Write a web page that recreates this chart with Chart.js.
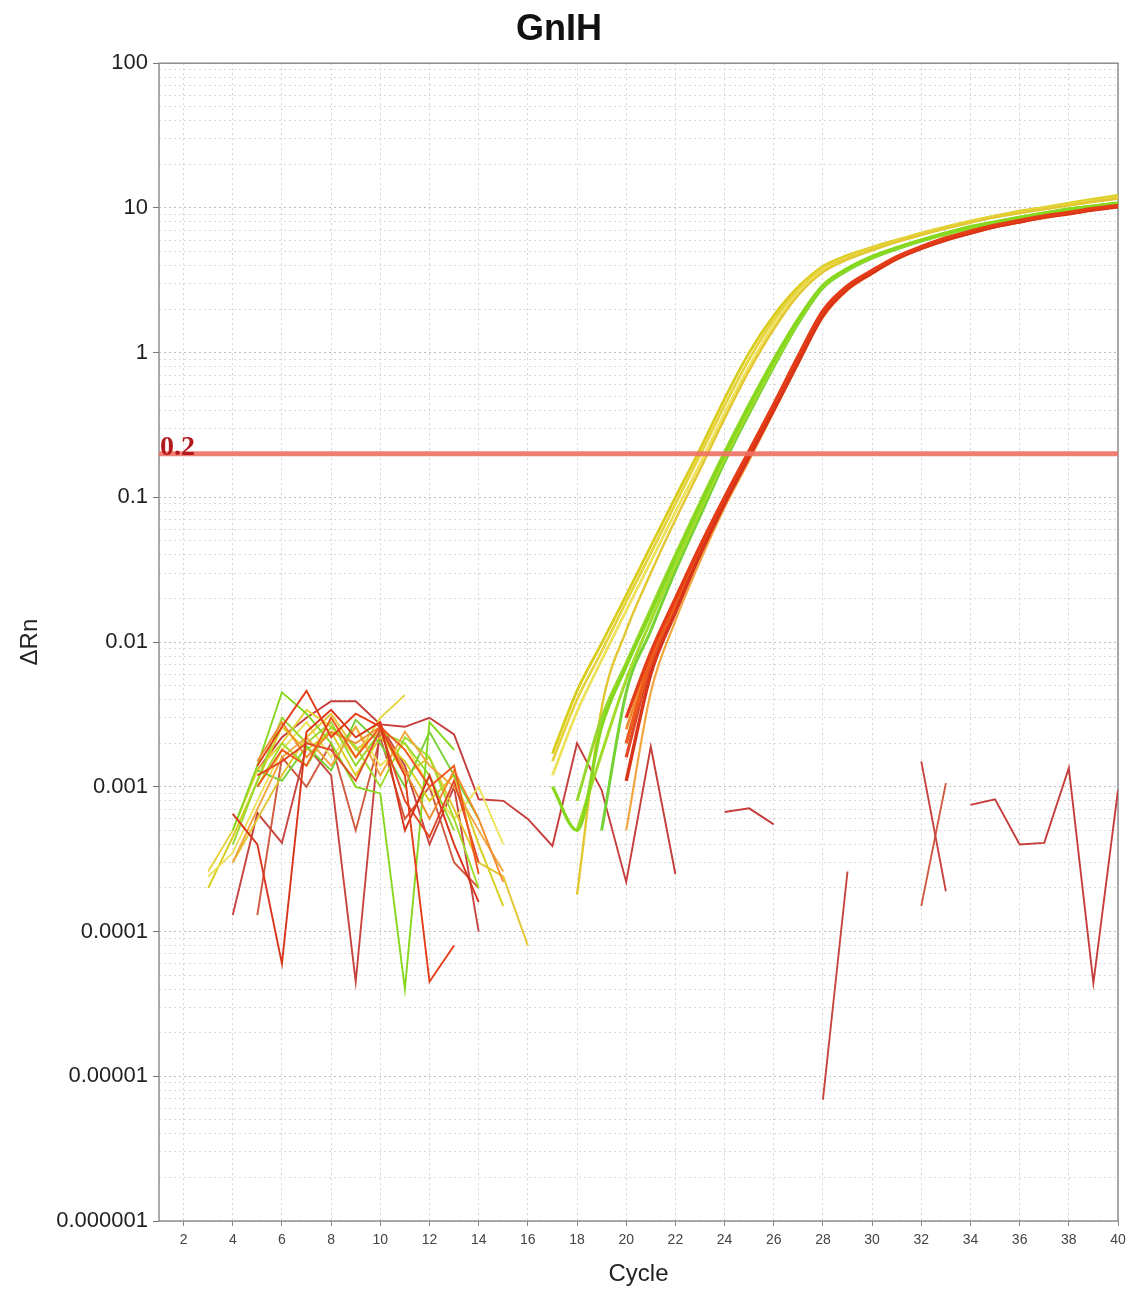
<!DOCTYPE html>
<html>
<head>
<meta charset="utf-8">
<title>GnIH</title>
<script src="https://cdn.jsdelivr.net/npm/chart.js@4.4.1/dist/chart.umd.min.js"></script>
<style>
  html, body { margin: 0; padding: 0; background: #fff; }
  #wrap { width: 1134px; height: 1291px; }
</style>
</head>
<body>
<div id="wrap"><canvas id="amplificationChart"></canvas></div>
<script>
// qPCR amplification plot, GnIH, delta Rn (log) vs cycle
const n = null;

const cycles = [1, 2, 3, 4, 5, 6, 7, 8, 9, 10, 11, 12, 13, 14, 15, 16, 17, 18, 19, 20,
                21, 22, 23, 24, 25, 26, 27, 28, 29, 30, 31, 32, 33, 34, 35, 36, 37, 38, 39, 40];
const xTicks = [2, 4, 6, 8, 10, 12, 14, 16, 18, 20, 22, 24, 26, 28, 30, 32, 34, 36, 38, 40];
const yMajorTicks = [1e-6, 1e-5, 1e-4, 1e-3, 1e-2, 1e-1, 1, 10, 100];
const yTickLabels = ['0.000001', '0.00001', '0.0001', '0.001', '0.01', '0.1', '1', '10', '100'];
const thresholdValue = 0.2;
const baselineEnd = 16; // last cycle of the noisy baseline part

// wells (ΔRn per cycle, null = not plotted / below zero)
const yellow1 = [n, n, 2.0e-4, 4.5e-4, 1.1e-3, 2.6e-3, 1.8e-3, 2.4e-3, 1.2e-3, 2.2e-3, 1.5e-3, 8e-4, 1.2e-3, 4e-4, 1.5e-4, n,
  1.7e-3, 4.6e-3, 0.0098, 0.021, 0.046, 0.1, 0.215, 0.48, 1.0, 1.8, 2.85, 3.95, 4.7, 5.35, 6.0, 6.7, 7.4, 8.1, 8.8, 9.5, 10.1, 10.8, 11.5, 12.2];
const yellow2 = [n, n, 2.4e-4, 3.5e-4, 8e-4, 1.8e-3, 2.8e-3, 1.6e-3, 2.6e-3, 1.4e-3, 2.0e-3, 1.0e-3, 6e-4, 1.0e-3, 4e-4, n,
  1.2e-3, 3.3e-3, 7.5e-3, 0.0165, 0.036, 0.079, 0.17, 0.38, 0.8, 1.55, 2.6, 3.7, 4.5, 5.2, 5.9, 6.6, 7.3, 8.0, 8.7, 9.3, 9.9, 10.5, 11.1, 11.7];
const yellow3 = [n, n, n, 3e-4, 6e-4, 1.2e-3, 2.2e-3, 3.2e-3, 1.8e-3, 2.4e-3, 1.2e-3, 1.6e-3, 7e-4, 3e-4, 2.4e-4, 8e-5,
  n, 1.8e-4, 3.5e-3, 0.012, 0.03, 0.07, 0.155, 0.35, 0.75, 1.45, 2.5, 3.6, 4.4, 5.1, 5.8, 6.5, 7.2, 7.9, 8.6, 9.2, 9.8, 10.4, 11.0, 11.6];
const yellow4 = [n, n, 2.6e-4, 5e-4, 1.3e-3, 2.0e-3, 3.4e-3, 2.6e-3, 1.6e-3, 3.0e-3, 4.3e-3, n, n, n, n, n,
  1.5e-3, 4.0e-3, 8.6e-3, 0.019, 0.041, 0.09, 0.195, 0.43, 0.9, 1.68, 2.75, 3.85, 4.6, 5.3, 5.95, 6.65, 7.35, 8.05, 8.75, 9.4, 10.0, 10.65, 11.3, 11.95];
const green1 = [n, n, n, 5e-4, 1.4e-3, 4.5e-3, 3.2e-3, 2.0e-3, 1.0e-3, 9e-4, 4e-5, 2.8e-3, 1.8e-3, n, n, n,
  1.0e-3, 5e-4, 2.6e-3, 0.0068, 0.016, 0.038, 0.088, 0.2, 0.43, 0.88, 1.7, 2.9, 3.8, 4.6, 5.3, 6.0, 6.7, 7.4, 8.0, 8.6, 9.2, 9.8, 10.3, 10.8];
const green2 = [n, n, n, n, 1.0e-3, 2.0e-3, 1.4e-3, 2.6e-3, 1.9e-3, 1.0e-3, 2.2e-3, 1.6e-3, 6e-4, 2e-4, n, n,
  n, 5e-4, 1.7e-3, 5.5e-3, 0.014, 0.034, 0.08, 0.185, 0.4, 0.83, 1.65, 2.85, 3.75, 4.55, 5.25, 5.95, 6.6, 7.3, 7.9, 8.5, 9.1, 9.7, 10.2, 10.7];
const green3 = [n, n, n, n, 1.3e-3, 1.1e-3, 1.9e-3, 1.3e-3, 2.9e-3, 2.0e-3, 1.0e-3, 2.4e-3, 1.2e-3, 6e-4, n, n,
  n, n, 5e-4, 4.5e-3, 0.012, 0.031, 0.074, 0.175, 0.38, 0.8, 1.6, 2.8, 3.7, 4.5, 5.2, 5.9, 6.55, 7.2, 7.85, 8.45, 9.05, 9.6, 10.15, 10.6];
const green4 = [n, n, n, 4e-4, 1.1e-3, 3.0e-3, 2.0e-3, 2.8e-3, 1.4e-3, 2.4e-3, 2.0e-3, 1.2e-3, 5e-4, n, n, n,
  n, 8e-4, 3.0e-3, 7.2e-3, 0.017, 0.04, 0.092, 0.205, 0.44, 0.9, 1.72, 2.92, 3.82, 4.62, 5.32, 6.02, 6.72, 7.42, 8.02, 8.62, 9.22, 9.82, 10.32, 10.82];
const orange1 = [n, n, n, 3e-4, 7e-4, 1.6e-3, 2.2e-3, 1.4e-3, 2.6e-3, 1.2e-3, 2.4e-3, 1.4e-3, 1.0e-3, 5e-4, 2.6e-4, n,
  n, n, n, 5e-4, 4.5e-3, 0.014, 0.036, 0.085, 0.18, 0.39, 0.84, 1.75, 2.7, 3.5, 4.4, 5.2, 5.95, 6.65, 7.35, 7.95, 8.55, 9.1, 9.65, 10.15];
const orange2 = [n, n, n, n, 1.5e-3, 2.8e-3, 1.6e-3, 2.4e-3, 2.0e-3, 2.6e-3, 1.3e-3, 6e-4, 1.3e-3, 6e-4, 2.2e-4, n,
  n, n, n, 2.5e-3, 8e-3, 0.0195, 0.045, 0.1, 0.205, 0.43, 0.92, 1.9, 2.85, 3.65, 4.55, 5.35, 6.1, 6.85, 7.55, 8.15, 8.75, 9.25, 9.85, 10.35];
const red1 = [n, n, n, n, 1.4e-3, 2.6e-3, 4.6e-3, 2.2e-3, 3.2e-3, 2.6e-3, 1.2e-3, 4.5e-5, 8e-5, n, n, n,
  n, n, n, 3.0e-3, 8.5e-3, 0.02, 0.046, 0.1, 0.21, 0.44, 0.95, 1.95, 2.9, 3.7, 4.6, 5.4, 6.2, 6.9, 7.6, 8.2, 8.8, 9.3, 9.9, 10.4];
const red2 = [n, n, n, n, 1.0e-3, 1.8e-3, 1.4e-3, 3.0e-3, 1.6e-3, 2.6e-3, 1.8e-3, 1.0e-3, 1.4e-3, 2.5e-4, n, n,
  n, n, n, 2.0e-3, 7.5e-3, 0.018, 0.043, 0.095, 0.2, 0.42, 0.9, 1.85, 2.8, 3.6, 4.5, 5.3, 6.1, 6.8, 7.5, 8.1, 8.7, 9.2, 9.8, 10.3];
const red3 = [n, n, n, 6.5e-4, 4e-4, 6e-5, 2.4e-3, 3.4e-3, 2.2e-3, 2.8e-3, 5e-4, 1.2e-3, 4e-4, 1.6e-4, n, n,
  n, n, n, 1.1e-3, 6.0e-3, 0.016, 0.04, 0.09, 0.19, 0.4, 0.86, 1.8, 2.75, 3.55, 4.45, 5.25, 6.0, 6.7, 7.4, 8.0, 8.6, 9.1, 9.7, 10.2];
const red4 = [n, n, n, n, 1.2e-3, 1.5e-3, 2.0e-3, 1.8e-3, 1.1e-3, 2.5e-3, 8e-4, 4.5e-4, 1.1e-3, 3e-4, n, n,
  n, n, n, 1.6e-3, 7e-3, 0.0175, 0.042, 0.093, 0.195, 0.41, 0.88, 1.85, 2.8, 3.6, 4.5, 5.3, 6.05, 6.75, 7.45, 8.05, 8.65, 9.15, 9.75, 10.25];
const ntc1 = [n, n, n, n, 1.3e-3, 2.2e-3, 3.0e-3, 3.9e-3, 3.9e-3, 2.7e-3, 2.6e-3, 3.0e-3, 2.3e-3, 8.2e-4, 8.0e-4, 6.0e-4,
  3.9e-4, 2.0e-3, 9.5e-4, 2.2e-4, 1.9e-3, 2.5e-4, n, 6.7e-4, 7.1e-4, 5.5e-4, n, n, n, n, n, n, n, 7.5e-4, 8.2e-4, 4.0e-4, 4.1e-4, 1.35e-3, 4.4e-5, 9.5e-4];
const ntc2 = [n, n, n, 1.3e-4, 6.6e-4, 4.1e-4, 1.9e-3, 1.2e-3, 4.5e-5, 2.7e-3, 1.4e-3, 4e-4, 1.0e-3, 1.0e-4, n, n,
  n, n, n, n, n, n, n, n, n, n, n, 6.9e-6, 2.6e-4, n, n, 1.5e-3, 1.9e-4, n, n, n, n, n, n, n];
const ntc3 = [n, n, n, n, 1.3e-4, 1.6e-3, 1.0e-3, 2.0e-3, 5e-4, 2.2e-3, 6e-4, 1.0e-3, 3e-4, 2e-4, n, n,
  n, n, n, n, n, n, n, n, n, n, n, n, n, n, n, 1.5e-4, 1.06e-3, n, n, n, n, n, n, n];

// first in list = drawn on top; amplifies=false -> no smooth curve part
const wells = [
  { name: 'Red 1', values: red1, color: '#e43c16', thick: 3.4, amplifies: true },
  { name: 'Red 3', values: red3, color: '#d8341a', thick: 3.4, amplifies: true },
  { name: 'Red 2', values: red2, color: '#ef5a1c', thick: 3.4, amplifies: true },
  { name: 'Red 4', values: red4, color: '#e24826', thick: 3.2, amplifies: true },
  { name: 'Orange 2', values: orange2, color: '#f08a2a', thick: 2.6, amplifies: true },
  { name: 'Orange 1', values: orange1, color: '#f2a640', thick: 2.2, amplifies: true },
  { name: 'Green 1', values: green1, color: '#86d81e', thick: 3.2, amplifies: true },
  { name: 'Green 4', values: green4, color: '#98d82e', thick: 3.0, amplifies: true },
  { name: 'Green 2', values: green2, color: '#a2dc2a', thick: 3.0, amplifies: true },
  { name: 'Green 3', values: green3, color: '#74d236', thick: 3.0, amplifies: true },
  { name: 'Yellow 3', values: yellow3, color: '#e2c632', thick: 2.4, amplifies: true },
  { name: 'Yellow 4', values: yellow4, color: '#e6d23a', thick: 2.6, amplifies: true },
  { name: 'Yellow 2', values: yellow2, color: '#eee25c', thick: 2.8, amplifies: true },
  { name: 'Yellow 1', values: yellow1, color: '#d9cd1c', thick: 2.8, amplifies: true },
  { name: 'NTC 1', values: ntc1, color: '#c63e3c', thick: 1.9, amplifies: false },
  { name: 'NTC 2', values: ntc2, color: '#c8443e', thick: 1.9, amplifies: false },
  { name: 'NTC 3', values: ntc3, color: '#cf5a3e', thick: 1.9, amplifies: false }
];

const yAllTicks = [];
yMajorTicks.forEach((m, i) => {
  if (i === yMajorTicks.length - 1) { yAllTicks.push(m); return; }
  for (let k = 1; k <= 9; k++) yAllTicks.push(m * k);
});

const isMajor = v => v != null && Math.abs(Math.log10(v) - Math.round(Math.log10(v))) < 1e-6;
const fontFamily = "'Liberation Sans', Arial, sans-serif";

const datasets = [{
  label: 'Threshold',
  data: [{ x: cycles[0], y: thresholdValue }, { x: cycles[cycles.length - 1], y: thresholdValue }],
  borderColor: 'rgba(238, 112, 98, 0.9)',
  borderWidth: 5,
  pointRadius: 0
}];

// smooth exponential part on top, jagged baseline part below
wells.filter(w => w.amplifies).forEach(w => {
  datasets.push({
    label: w.name + ' (curve)',
    data: w.values.map((v, i) => ({ x: cycles[i], y: cycles[i] > baselineEnd ? v : null })),
    borderColor: w.color,
    borderWidth: w.thick,
    pointRadius: 0,
    cubicInterpolationMode: 'monotone',
    spanGaps: false
  });
});

wells.forEach(w => {
  datasets.push({
    label: w.name,
    data: w.values.map((v, i) => ({ x: cycles[i], y: (!w.amplifies || cycles[i] <= baselineEnd) ? v : null })),
    borderColor: w.color,
    borderWidth: 1.9,
    pointRadius: 0,
    tension: 0,
    spanGaps: false
  });
});

const frameAndLabel = {
  id: 'frameAndLabel',
  beforeDatasetsDraw(chart) {
    const { ctx, chartArea: a } = chart;
    ctx.save();
    ctx.strokeStyle = '#8e8e8e';
    ctx.lineWidth = 1.5;
    ctx.strokeRect(a.left, a.top, a.right - a.left, a.bottom - a.top);
    ctx.restore();
  },
  afterDatasetsDraw(chart) {
    const { ctx, chartArea: a } = chart;
    const y = chart.scales.y.getPixelForValue(thresholdValue);
    ctx.save();
    ctx.font = "bold 28px 'Liberation Serif', 'DejaVu Serif', serif";
    ctx.fillStyle = '#b01a1c';
    ctx.textBaseline = 'alphabetic';
    ctx.fillText(String(thresholdValue), a.left + 1, y + 1);
    ctx.restore();
  }
};

new Chart(document.getElementById('amplificationChart'), {
  type: 'line',
  data: { datasets: datasets },
  options: {
    responsive: true,
    maintainAspectRatio: false,
    animation: false,
    layout: { padding: { left: 0, right: 16, top: 0, bottom: 0 } },
    plugins: {
      legend: { display: false },
      tooltip: { enabled: false },
      title: {
        display: true,
        text: 'GnIH',
        color: '#111',
        font: { family: fontFamily, size: 36, weight: 'bold' },
        padding: { top: 8, bottom: 12 }
      }
    },
    scales: {
      x: {
        type: 'linear',
        min: 1,
        max: 40,
        afterBuildTicks: axis => { axis.ticks = xTicks.map(v => ({ value: v })); },
        afterFit: scale => { scale.height = 70; },
        ticks: { color: '#444', font: { family: fontFamily, size: 14 }, maxRotation: 0, autoSkip: false, padding: 6 },
        grid: { color: '#d4d4d4', tickLength: 5, tickColor: '#888', tickBorderDash: [] },
        border: { display: false, dash: [2, 3] },
        title: { display: true, text: 'Cycle', color: '#222', font: { family: fontFamily, size: 24 }, padding: { top: 0, bottom: 2 } }
      },
      y: {
        type: 'logarithmic',
        min: 1e-6,
        max: 100,
        afterBuildTicks: axis => { axis.ticks = yAllTicks.map(v => ({ value: v })); },
        afterFit: scale => { scale.width = 159; },
        ticks: {
          autoSkip: false,
          color: '#222',
          font: { family: fontFamily, size: 22 },
          padding: 5,
          callback: v => (isMajor(v) ? yTickLabels[Math.round(Math.log10(v)) + 6] : '')
        },
        grid: {
          color: ctx => (isMajor(ctx.tick && ctx.tick.value) ? '#bdbdbd' : '#dadada'),
          tickLength: 6,
          tickColor: ctx => (isMajor(ctx.tick && ctx.tick.value) ? '#777' : 'rgba(0,0,0,0)'),
          tickBorderDash: []
        },
        border: { display: false, dash: [2, 3] },
        title: { display: true, text: 'ΔRn', color: '#222', font: { family: fontFamily, size: 24 }, padding: { top: 16, bottom: 4 } }
      }
    }
  },
  plugins: [frameAndLabel]
});
</script>
</body>
</html>
